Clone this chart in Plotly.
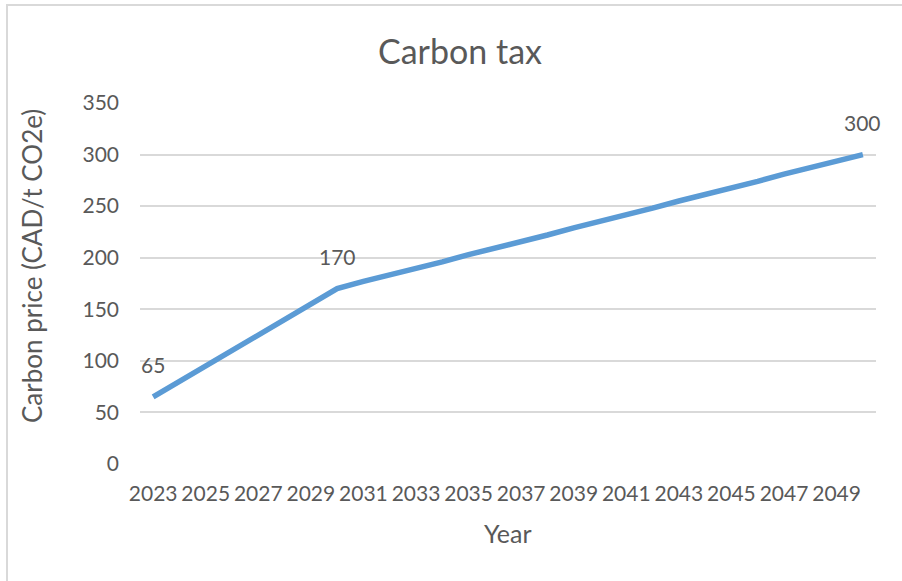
import plotly.graph_objects as go

# Carbon price schedule, CAD per tonne CO2e
years = list(range(2023, 2051))
prices = [65, 80, 95, 110, 125, 140, 155, 170,
          177, 183, 190, 196, 203, 209, 216, 222, 229, 235,
          242, 248, 255, 261, 268, 274, 281, 287, 294, 300]
labelled_years = [2023, 2030, 2050]
y_ticks = [0, 50, 100, 150, 200, 250, 300, 350]
x_ticks = list(range(2023, 2050, 2))

W, H = 902, 581
L, R, T, B = 140, 876, 103, 464  # plot area in pixels
FONT = "Lato"
TXT = "#595959"
GRID = "#d9d9d9"


def px_x(px):
    return (px - L) / (R - L)


def px_y(py):
    return (B - py) / (B - T)


fig = go.Figure()
fig.add_trace(go.Scatter(
    x=years, y=prices, mode="lines",
    line=dict(color="#5b9bd5", width=5.5),
    hoverinfo="skip", showlegend=False,
))

annotations = []
for yr in labelled_years:
    v = prices[years.index(yr)]
    annotations.append(dict(
        x=yr, y=v, xref="x", yref="y", text=str(v), showarrow=False,
        yshift=32, font=dict(family=FONT, size=21, color=TXT),
    ))

annotations += [
    dict(text="Carbon tax", x=px_x(460), y=px_y(50), xref="paper", yref="paper",
         showarrow=False, xanchor="center", yanchor="middle",
         font=dict(family=FONT, size=34, color=TXT)),
    dict(text="Year", x=px_x(508), y=px_y(533), xref="paper", yref="paper",
         showarrow=False, xanchor="center", yanchor="middle",
         font=dict(family=FONT, size=25, color=TXT)),
    dict(text="Carbon price (CAD/t CO2e)", x=px_x(32), y=px_y(266),
         xref="paper", yref="paper", textangle=-90,
         showarrow=False, xanchor="center", yanchor="middle",
         font=dict(family=FONT, size=26, color=TXT)),
]

fig.update_layout(
    width=W, height=H,
    margin=dict(l=L, r=W - R, t=T, b=H - B, pad=0),
    paper_bgcolor="white", plot_bgcolor="white",
    annotations=annotations,
    shapes=[dict(type="rect", xref="paper", yref="paper",
                 x0=px_x(7), x1=px_x(905), y0=px_y(585), y1=px_y(5),
                 line=dict(color=GRID, width=2), layer="below")],
    xaxis=dict(range=[2022.5, 2050.5], tickvals=x_ticks,
               ticktext=[str(t) for t in x_ticks],
               showgrid=False, zeroline=False, showline=False, ticks="",
               ticklabelstandoff=15,
               tickfont=dict(family=FONT, size=21, color=TXT)),
    yaxis=dict(range=[0, 350], tickvals=y_ticks,
               showgrid=True, gridcolor=GRID, gridwidth=2,
               zeroline=False, showline=False, ticks="",
               ticklabelstandoff=20,
               tickfont=dict(family=FONT, size=21, color=TXT)),
)

fig.write_html("out.html")
